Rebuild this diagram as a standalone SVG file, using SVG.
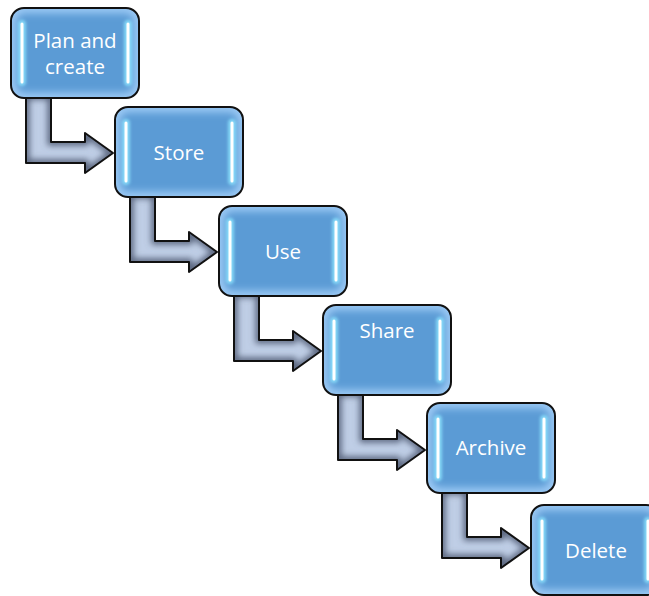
<svg xmlns="http://www.w3.org/2000/svg" xmlns:xlink="http://www.w3.org/1999/xlink" width="649" height="596" viewBox="0 0 649 596">
<style>
.lbl{font-family:"Open Sans","Liberation Sans",sans-serif;font-size:20.5px;fill:#ffffff;text-anchor:middle}
.edge{fill:none;stroke:#111;stroke-width:2;stroke-linejoin:round}
.bar{stroke:#ffffff;stroke-width:3;stroke-linecap:round}
.barglow{stroke:#8ee6ff;stroke-width:8;stroke-linecap:round;opacity:0.8}
</style>
<defs>
<filter id="blur3" filterUnits="userSpaceOnUse" x="-50" y="-50" width="250" height="250"><feGaussianBlur stdDeviation="3"/></filter>
<filter id="blur4" filterUnits="userSpaceOnUse" x="-50" y="-50" width="250" height="250"><feGaussianBlur stdDeviation="4"/></filter>
<filter id="soft" filterUnits="userSpaceOnUse" x="-50" y="-50" width="250" height="250"><feGaussianBlur stdDeviation="1.6"/></filter>
<path id="arrow" d="M15 88 L40 88 L40 134 L74 134 L74 125 L102 145 L74 165 L74 155 L15 155 Z"/>
<clipPath id="arrowClip"><use xlink:href="#arrow"/></clipPath>
<clipPath id="boxClip"><rect x="0" y="0" width="128" height="90" rx="13"/></clipPath>
<g id="arrowShape">
<use xlink:href="#arrow" fill="#bfcee6"/>
<g clip-path="url(#arrowClip)"><use xlink:href="#arrow" fill="none" stroke="#56627a" stroke-width="7" filter="url(#blur3)"/></g>
<use xlink:href="#arrow" class="edge"/>
</g>
<g id="box">
<rect x="0" y="0" width="128" height="90" rx="13" fill="#5b9bd5"/>
<g clip-path="url(#boxClip)"><rect x="0" y="0" width="128" height="90" rx="13" fill="none" stroke="#a9d3fb" stroke-width="9" filter="url(#blur4)"/></g>
<line class="barglow" x1="11" y1="16" x2="11" y2="74" filter="url(#soft)"/>
<line class="barglow" x1="117" y1="16" x2="117" y2="74" filter="url(#soft)"/>
<line class="bar" x1="11" y1="16" x2="11" y2="74"/>
<line class="bar" x1="117" y1="16" x2="117" y2="74"/>
<rect class="edge" x="0" y="0" width="128" height="90" rx="13"/>
</g>
</defs>
<g id="connectors">
<use xlink:href="#arrowShape" x="11" y="8"/>
<use xlink:href="#arrowShape" x="115" y="107"/>
<use xlink:href="#arrowShape" x="219" y="206"/>
<use xlink:href="#arrowShape" x="323" y="305"/>
<use xlink:href="#arrowShape" x="427" y="403"/>
</g>
<g id="node-plan">
<use xlink:href="#box" x="11" y="8"/>
<text class="lbl" x="75" y="48">Plan and</text>
<text class="lbl" x="75" y="74">create</text>
</g>
<g id="node-store">
<use xlink:href="#box" x="115" y="107"/>
<text class="lbl" x="179" y="160">Store</text>
</g>
<g id="node-use">
<use xlink:href="#box" x="219" y="206"/>
<text class="lbl" x="283" y="259">Use</text>
</g>
<g id="node-share">
<use xlink:href="#box" x="323" y="305"/>
<text class="lbl" x="387" y="338">Share</text>
</g>
<g id="node-archive">
<use xlink:href="#box" x="427" y="403"/>
<text class="lbl" x="491" y="455">Archive</text>
</g>
<g id="node-delete">
<use xlink:href="#box" x="531" y="505"/>
<text class="lbl" x="596" y="558">Delete</text>
</g>
</svg>
